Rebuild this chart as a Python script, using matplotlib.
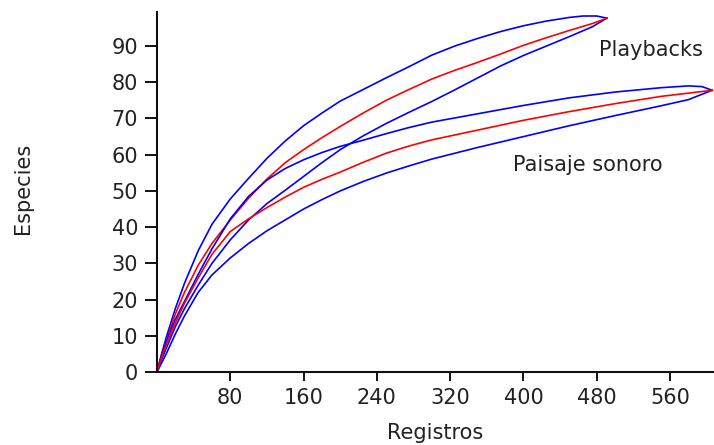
import matplotlib
matplotlib.use("Agg")
import matplotlib.pyplot as plt

# ---- data ----
pb_x = [1, 5, 10, 20, 30, 45, 60, 80, 100, 120, 140, 160, 180, 200, 225, 250,
        275, 300, 325, 350, 375, 400, 425, 450, 465, 480, 491]
pb_upper = [1, 5, 9.5, 17.5, 24.5, 33.5, 40.8, 47.8, 53.5, 59, 63.8, 68, 71.5, 74.8,
            78, 81.2, 84.3, 87.5, 90, 92.1, 94, 95.6, 96.9, 97.9, 98.3, 98.3, 97.7]
pb_x_m = [1, 5, 10, 20, 30, 45, 60, 80, 100, 120, 140, 160, 180, 200, 225, 250,
          275, 300, 325, 350, 375, 400, 425, 450, 475, 491]
pb_mean = [1, 4.5, 8.5, 16, 22, 29.5, 35.5, 42, 48, 53.3, 57.8, 61.4, 64.7, 67.8,
           71.5, 75, 78, 80.9, 83.3, 85.5, 87.8, 90.2, 92.3, 94.3, 96.2, 97.7]
pb_lower = [1, 3.5, 6.5, 12.5, 17.5, 24, 30, 36.5, 42, 46.5, 50.2, 54, 57.8, 61.4,
            65.2, 68.6, 71.7, 74.7, 77.9, 81.2, 84.5, 87.4, 90, 92.6, 95.3, 97.7]

ps_x = [1, 5, 10, 20, 30, 45, 60, 80, 100, 120, 140, 160, 180, 200, 225, 250,
        275, 300, 350, 400, 450, 500, 550, 580, 595, 606]
ps_upper = [1, 4.5, 8.5, 14.5, 19.5, 27, 34, 42.3, 48.5, 53, 56.2, 58.6, 60.6,
            62.3, 64.0, 65.8, 67.5, 69, 71.3, 73.6, 75.7, 77.3, 78.5, 79, 78.8, 77.8]
ps_x_m = [1, 5, 10, 20, 30, 45, 60, 80, 100, 120, 140, 160, 180, 200, 225, 250,
          275, 300, 350, 400, 450, 500, 550, 580, 606]
ps_mean = [1, 4, 7.5, 13.5, 19, 26, 32.5, 38.8, 42.3, 45.4, 48.3, 51, 53.2, 55.2,
           57.9, 60.4, 62.4, 64.1, 66.8, 69.5, 71.9, 74.1, 76.1, 77, 77.8]
ps_lower = [0.5, 2.5, 5, 10.5, 15.5, 22, 26.8, 31.5, 35.5, 39, 42, 45, 47.6, 50,
            52.6, 54.9, 56.9, 58.8, 62, 65, 68, 70.8, 73.5, 75.2, 77.8]

x_ticks = [80, 160, 240, 320, 400, 480, 560]
y_ticks = [0, 10, 20, 30, 40, 50, 60, 70, 80, 90]

# ---- figure ----
plt.rcParams['font.family'] = ['DejaVu Sans']
fig = plt.figure(figsize=(7.14, 4.45), dpi=100)
ax = fig.add_axes([0.2199, 0.164, 0.7801, 0.809])

blue = '#0000ff'
red = '#ff0000'
lw = 1.2
ax.plot(pb_x, pb_upper, color=blue, lw=lw)
ax.plot(pb_x_m, pb_lower, color=blue, lw=lw)
ax.plot(pb_x_m, pb_mean, color=red, lw=lw)
ax.plot(ps_x, ps_upper, color=blue, lw=lw)
ax.plot(ps_x_m, ps_lower, color=blue, lw=lw)
ax.plot(ps_x_m, ps_mean, color=red, lw=lw)

ax.set_xlim(0, 608)
ax.set_ylim(0, 99.4)
ax.set_xticks(x_ticks)
ax.set_yticks(y_ticks)

txt = '#222222'
fs = 15
for s in ['top', 'right']:
    ax.spines[s].set_visible(False)
for s in ['left', 'bottom']:
    ax.spines[s].set_linewidth(1.5)
    ax.spines[s].set_color('#111111')

ax.tick_params(axis='x', length=6.5, width=1.4, pad=5, labelsize=fs,
               colors='#111111', labelcolor=txt)
ax.tick_params(axis='y', length=8.6, width=1.4, pad=5, labelsize=fs,
               colors='#111111', labelcolor=txt)

ax.set_xlabel('Registros', fontsize=fs, color=txt)
ax.set_ylabel('Especies', fontsize=fs, color=txt)
ax.xaxis.set_label_coords(0.5, -0.142)
ax.yaxis.set_label_coords(-0.222, 0.51)

ax.text(539, 89, 'Playbacks', fontsize=fs, color=txt, ha='center', va='center')
ax.text(470, 57.2, 'Paisaje sonoro', fontsize=fs, color=txt, ha='center', va='center')

fig.savefig('out.png', dpi=100)
